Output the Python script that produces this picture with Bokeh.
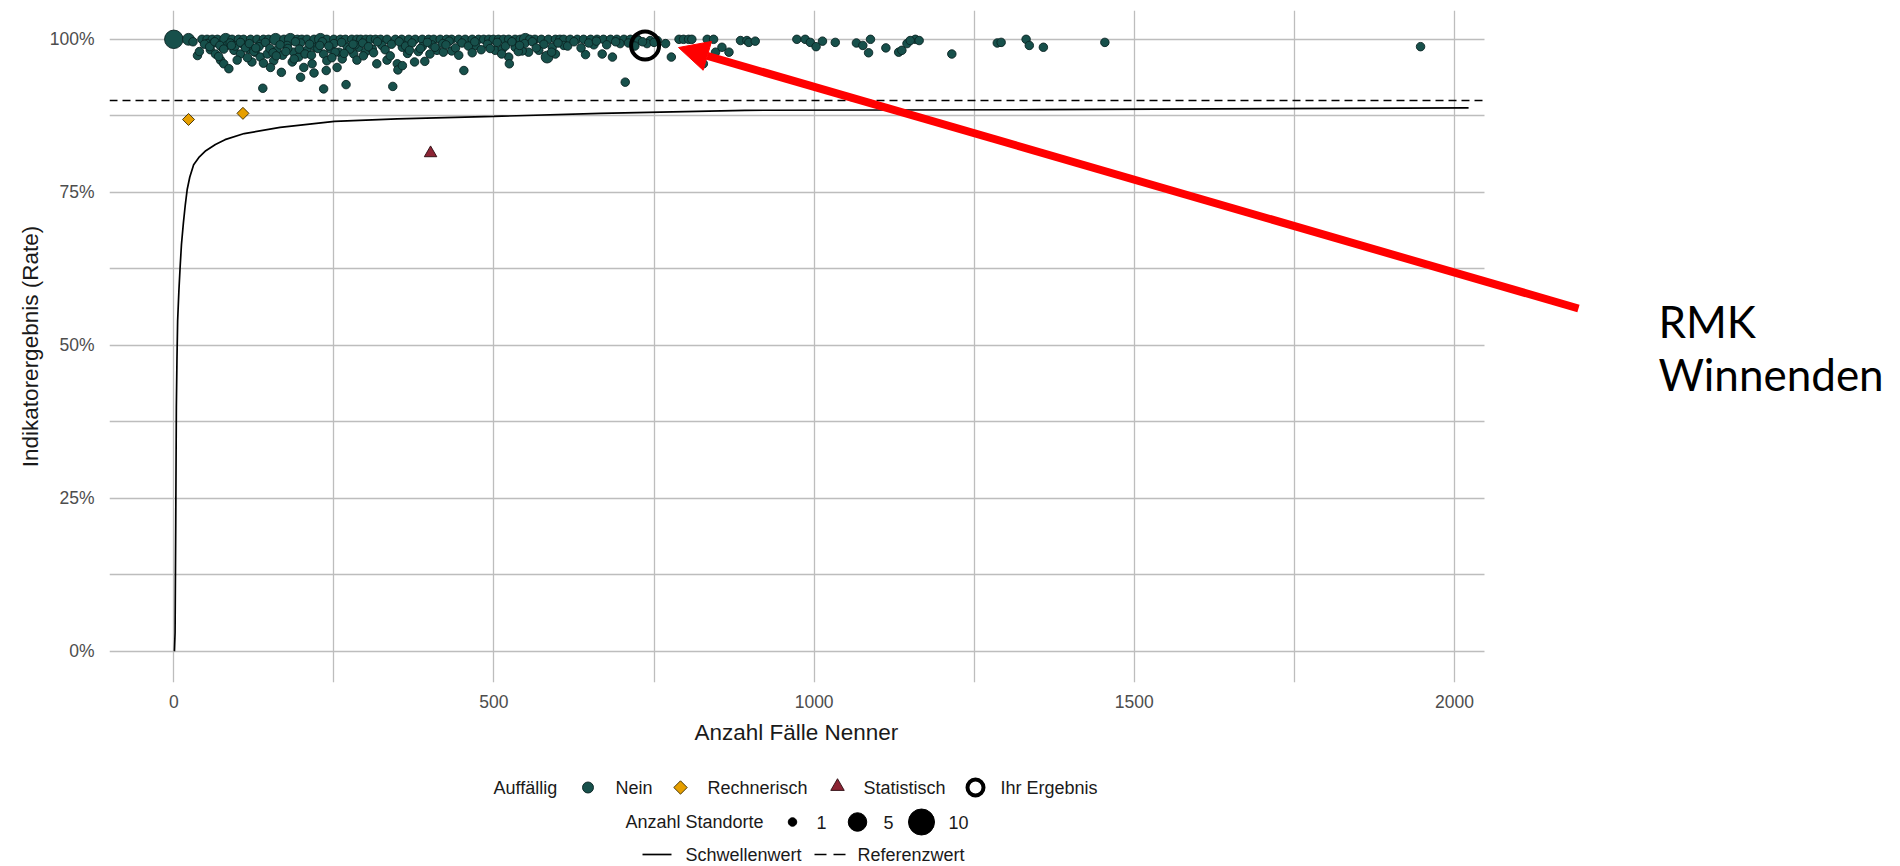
import math
from bokeh.plotting import figure
from bokeh.models import (Range1d, FixedTicker, NumeralTickFormatter, Arrow,
                          NormalHead, Label, Title)
from bokeh.layouts import column
from bokeh.embed import file_html
from bokeh.resources import INLINE
from bokeh.core.properties import value

FONT = "Liberation Sans"

# ---------------- data ----------------
x_ticks = [0, 500, 1000, 1500, 2000]
x_minor = [250, 750, 1250, 1750]
y_ticks = [0, 0.25, 0.5, 0.75, 1.0]
y_minor = [0.125, 0.375, 0.625, 0.875]

# Auffaellig = "Nein": Anzahl Faelle Nenner / Rate in % / Anzahl Standorte
nein_faelle = [
    0, 23, 44, 52, 60, 68, 81, 91, 101, 109, 120, 130, 140, 148, 159, 172, 182, 193, 200, 208,
    219, 229, 239, 250, 260, 268, 278, 286, 292, 300, 307, 315, 323, 333, 346, 356, 367, 377,
    388, 398, 406, 416, 426, 434, 445, 455, 466, 476, 484, 492, 499, 507, 515, 523, 533, 541,
    549, 556, 564, 574, 585, 596, 603, 609, 619, 630, 640, 651, 661, 671, 682, 692, 703, 713,
    724, 789, 796, 804, 809, 833, 843, 973, 986, 1088, 1158, 1331,
    744, 755, 885, 895, 898, 908, 994, 1003, 1013, 1033, 1066, 1076, 1085, 1112, 1132, 1137,
    1145, 1150, 1164, 1215, 1286, 1292, 1336, 1358, 1454, 1947,
    37, 57, 65, 75, 83, 94, 104, 117, 127, 135, 146, 161, 177, 187, 195, 208, 221, 234, 245,
    258, 271, 281, 73, 78, 86, 99, 122, 140, 156, 151, 168, 185, 203, 216, 219, 198, 239, 255,
    263, 286, 139, 234, 269, 52, 62, 109, 135, 198, 250,
    289, 299, 317, 333, 349, 350, 342, 365, 376, 392, 453, 411, 421, 434, 523, 524, 583, 554,
    502, 310, 325, 357, 388, 403, 471, 513, 533, 544, 570, 591,
    596, 643, 669, 685, 705, 609, 656, 697, 768, 777, 827, 846, 856, 867, 726, 739, 750,
    357, 238,
    30, 48, 56, 64, 72, 78, 88, 96, 104, 112, 118, 125, 133, 143, 150, 155, 166, 170, 178, 190,
    196, 205, 212, 225, 232, 242, 252, 262, 275, 283, 295, 304, 318, 330, 340, 352, 362, 372,
    382, 396, 408, 420, 430, 440, 450, 460, 470, 480, 490, 505, 518, 528, 538, 548, 560, 578,
    600, 615, 625, 636, 648, 660, 676, 690, 710, 720, 732,
    40, 70, 90, 115, 128, 160, 175, 188, 215, 228, 247, 266, 280, 296, 312, 338, 368, 385,
    400, 425, 445, 466, 494, 512, 540, 566, 590,
]
nein_rate_pct = [
    100, 100, 100, 100, 100, 100, 100, 100, 100, 100, 100, 100, 100, 100, 100, 100, 100, 100, 100, 100,
    100, 100, 100, 100, 100, 100, 100, 100, 100, 100, 100, 100, 100, 100, 100, 100, 100, 100,
    100, 100, 100, 100, 100, 100, 100, 100, 100, 100, 100, 100, 100, 100, 100, 100, 100, 100,
    100, 100, 100, 100, 100, 100, 100, 100, 100, 100, 100, 100, 100, 100, 100, 100, 100, 100,
    100, 100, 100, 100, 100, 100, 100, 100, 100, 100, 100, 100,
    99.8, 99.8, 99.8, 99.8, 99.5, 99.7, 99.5, 98.8, 99.7, 99.5, 99.4, 99.0, 97.8, 98.6, 97.9, 98.2,
    99.3, 99.8, 99.8, 97.6, 99.4, 99.5, 99.0, 98.7, 99.5, 98.8,
    97.35, 98.3, 97.6, 98.7, 99.0, 98.2, 97.6, 98.4, 97.9, 97.1, 97.6, 98.2, 99.0, 97.9, 97.1, 98.2, 98.7, 97.6, 98.4,
    97.9, 98.7, 97.6, 96.6, 96.0, 95.2, 96.6, 96.3, 96.1, 96.5, 95.4, 94.6, 96.3, 95.4, 96.0, 94.5, 93.8, 96.5, 95.4,
    96.8, 96.6, 92.0, 91.9, 92.6, 99.3, 99.4, 99.1, 99.2, 99.4, 99.3,
    98.7, 97.9, 96.0, 96.6, 96.0, 95.0, 92.3, 97.7, 96.3, 96.4, 94.9, 98.2, 97.9, 98.1, 97.1, 96.0, 97.1, 97.9,
    98.2, 98.4, 99.0, 98.7, 98.8, 99.1, 99.0, 98.4, 98.7, 98.1, 98.2, 98.7,
    97.6, 97.5, 97.6, 97.1, 93.0, 99.0, 99.1, 99.3, 99.3, 97.1, 96.0, 97.9, 98.7, 97.9, 99.8, 99.3, 99.5,
    95.7, 94.9,
    99.6, 99.2, 98.8, 99.6, 99.0, 98.4, 99.4, 98.9, 99.5, 98.6, 99.3, 98.0, 98.8, 99.5, 98.5, 97.8, 99.1, 97.4, 98.5, 99.6,
    98.4, 97.6, 99.2, 98.5, 99.6, 98.9, 97.9, 99.5, 98.4, 99.1, 99.4, 98.8, 99.6, 98.3, 99.2, 99.6, 98.9, 99.4,
    98.0, 99.5, 98.7, 99.3, 99.7, 98.6, 99.4, 98.9, 99.6, 98.3, 99.2, 99.5, 98.9, 99.6, 98.0, 99.3, 99.6, 99.2,
    99.4, 98.9, 99.6, 98.6, 99.4, 99.7, 99.1, 99.6, 99.4, 98.9, 99.6,
    98.0, 97.2, 99.0, 97.0, 98.6, 97.3, 98.0, 96.8, 97.4, 99.0, 97.0, 97.7, 99.2, 97.3, 97.8, 97.3, 98.2, 98.5,
    97.6, 99.1, 97.4, 97.8, 98.5, 97.6, 99.0, 98.6, 97.9,
]
# Anzahl Standorte (1 unless listed as larger)
nein_standorte = [1] * len(nein_faelle)
for idx, n in [(0, 5), (1, 2), (6, 2), (14, 2), (16, 2), (21, 2), (56, 2)]:
    nein_standorte[idx] = n
nein_standorte[nein_faelle.index(583)] = 2

rechnerisch_faelle = [23, 108]
rechnerisch_rate = [0.869, 0.879]
statistisch_faelle = [401]
statistisch_rate = [0.814]
ihr_faelle = [736]
ihr_rate = [0.990]

schwelle_faelle = [1, 2, 3, 4, 5, 6, 8, 10, 12, 15, 18, 21, 25, 31, 40, 50, 65, 80, 110, 166,
                   251, 349, 500, 666, 892, 1353, 2022]
schwelle_rate = [0.0, 0.03, 0.20, 0.40, 0.48, 0.54, 0.59, 0.63, 0.665, 0.70, 0.73, 0.755, 0.775,
                 0.795, 0.808, 0.818, 0.828, 0.836, 0.846, 0.856, 0.866, 0.870, 0.874, 0.879,
                 0.884, 0.885, 0.888]
referenzwert = 0.90

legend_auffaellig = ["Nein", "Rechnerisch", "Statistisch", "Ihr Ergebnis"]
legend_standorte = [1, 5, 10]
legend_linien = ["Schwellenwert", "Referenzwert"]
annotation_text = ["RMK", "Winnenden"]

# ---------------- styles / layout ----------------
TEAL = "#17504b"
ORANGE = "#e69f00"
DARKRED = "#8c2434"
GRID = "#bdbdbd"
TICK_COL = "#4d4d4d"
TEXT_COL = "#1a1a1a"

PANEL_X = (-100.4, 2046.8)      # data extent of the plot panel (with expansion)
FRAME_X = (-100.4, 2696.5)      # frame continues to the right edge (room for annotation)
PANEL_Y = (-0.0512, 1.0471)


def size_px(n):
    # area scale (like ggplot's scale_size): 1 -> 8.5px, 10 -> 26px
    return 8.5 + 17.5 * (math.sqrt(n) - 1) / (math.sqrt(10) - 1)


# ---------------- main plot ----------------
p = figure(width=1900, height=760,
           x_range=Range1d(*FRAME_X), y_range=Range1d(*PANEL_Y),
           output_backend="svg", toolbar_location=None,
           min_border_left=109, min_border_right=0, min_border_top=10, min_border_bottom=78)
p.outline_line_color = None
p.background_fill_color = "white"

xt = FixedTicker(ticks=x_ticks, minor_ticks=x_minor)
yt = FixedTicker(ticks=y_ticks, minor_ticks=y_minor)
p.xaxis.ticker = xt
p.xgrid.ticker = xt
p.yaxis.ticker = yt
p.ygrid.ticker = yt
p.yaxis.formatter = NumeralTickFormatter(format="0%")
p.xaxis.bounds = PANEL_X
p.ygrid.cross_bounds = PANEL_X

for g in (p.xgrid, p.ygrid):
    g.grid_line_color = GRID
    g.grid_line_width = 1.3
    g.minor_grid_line_color = GRID
    g.minor_grid_line_width = 1.3

for ax in (p.xaxis, p.yaxis):
    ax.axis_line_color = None
    ax.major_tick_line_color = None
    ax.minor_tick_line_color = None
    ax.major_label_text_font = FONT
    ax.major_label_text_font_size = "17.5px"
    ax.major_label_text_color = TICK_COL
    ax.axis_label_text_font = FONT
    ax.axis_label_text_font_size = "22.5px"
    ax.axis_label_text_font_style = "normal"
    ax.axis_label_text_color = TEXT_COL

p.yaxis.axis_label = "Indikatorergebnis (Rate)"
p.xaxis.major_label_standoff = 6
p.yaxis.major_label_standoff = 9
p.yaxis.axis_label_standoff = 4

# x-axis title, centred under the panel (not under the wider frame)
p.add_layout(Title(text="Anzahl Fälle Nenner", align="left", offset=585,
                   vertical_align="middle", standoff=16,
                   text_font=FONT, text_font_size="22.5px", text_font_style="normal",
                   text_color=TEXT_COL), "below")

# Referenzwert (dashed, across the panel) and Schwellenwert (solid)
p.line(list(PANEL_X), [referenzwert, referenzwert], line_color="black",
       line_width=1.4, line_dash="8 5")
p.line(schwelle_faelle, schwelle_rate, line_color="black", line_width=1.7)

# points
p.scatter(nein_faelle, [v / 100 for v in nein_rate_pct],
          size=[size_px(n) for n in nein_standorte], marker="circle",
          fill_color=TEAL, line_color="#0a2422", line_width=0.9)
p.scatter(rechnerisch_faelle, rechnerisch_rate, marker="square", angle=math.pi / 4,
          size=8.5, fill_color=ORANGE, line_color="#3a2a00", line_width=0.9)
p.scatter(statistisch_faelle, statistisch_rate, marker="triangle", size=12.5,
          fill_color=DARKRED, line_color="#2a0a10", line_width=0.9)
p.scatter(ihr_faelle, ihr_rate, marker="circle", size=28, fill_color=None,
          line_color="black", line_width=4)

# red arrow + text annotation
p.add_layout(Arrow(end=NormalHead(size=30, fill_color="#ff0000", line_color="#ff0000"),
                   x_start=2193.6, y_start=0.5601, x_end=788.2, y_end=0.9866,
                   line_color="#ff0000", line_width=8))
for txt, ypos in zip(annotation_text, [0.5404, 0.4533]):
    p.add_layout(Label(x=2318.4, y=ypos, text=txt, text_font="Lato",
                       text_font_size="44px", text_color="black",
                       text_baseline="alphabetic", text_align="left"))

# ---------------- legend (own canvas, window pixel coordinates) ----------------
lg = figure(width=1900, height=106, x_range=Range1d(109, 1900), y_range=Range1d(866, 760),
            output_backend="svg", toolbar_location=None, min_border=0,
            x_axis_type=None, y_axis_type=None)
lg.outline_line_color = None
lg.grid.visible = False

R1, R2, R3 = 787, 821.5, 854
tfont = dict(text_font=value(FONT), text_font_size=value("18px"),
             text_color=TEXT_COL, text_baseline="middle", text_align="left")

lg.text([493], [R1], text=["Auffällig"], **tfont)
lg.scatter([587.5], [R1], marker="circle", size=11, fill_color=TEAL, line_color="#0a2422", line_width=0.9)
lg.scatter([680], [R1], marker="square", angle=math.pi / 4, size=9.5, fill_color=ORANGE,
           line_color="#3a2a00", line_width=0.9)
lg.scatter([837], [R1 - 1], marker="triangle", size=13.5, fill_color=DARKRED,
           line_color="#2a0a10", line_width=0.9)
lg.scatter([975], [R1], marker="circle", size=16, fill_color=None, line_color="black", line_width=4)
lg.text([615, 707, 863, 1000], [R1] * 4, text=legend_auffaellig, **tfont)

lg.text([625], [R2], text=["Anzahl Standorte"], **tfont)
lg.scatter([792, 857, 921], [R2] * 3, marker="circle",
           size=[size_px(n) for n in legend_standorte], fill_color="black", line_color="black")
lg.text([816, 883, 948], [R2] * 3, text=[str(n) for n in legend_standorte], **tfont)

lg.line([642, 671], [R3, R3], line_color="black", line_width=1.7)
lg.line([814, 845], [R3, R3], line_color="black", line_width=1.7, line_dash="12 7")
lg.text([685, 857], [R3, R3], text=legend_linien, **tfont)

layout = column(p, lg)
open("out.html", "w").write(file_html(layout, INLINE))
